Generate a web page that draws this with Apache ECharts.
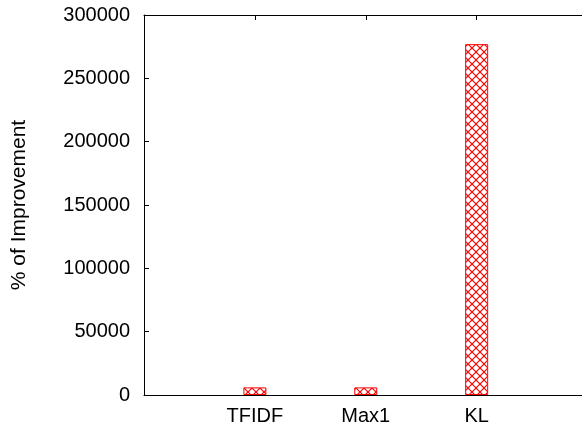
<!DOCTYPE html>
<html><head><meta charset="utf-8">
<script src="https://cdn.jsdelivr.net/npm/echarts@6/dist/echarts.min.js"></script>
<style>html,body{margin:0;padding:0;background:#fff}#c{width:582px;height:429px}</style>
</head><body><div id="c"></div>
<script>
const categories = ['TFIDF', 'Max1', 'KL'];
const improvement = [6000, 6000, 277000];
const yTicks = [0, 50000, 100000, 150000, 200000, 250000, 300000];

function hatch() {
  const s = 8, c = document.createElement('canvas');
  c.width = s; c.height = s;
  const g = c.getContext('2d');
  g.fillStyle = '#fff'; g.fillRect(0, 0, s, s);
  g.strokeStyle = '#ff0000'; g.lineWidth = 1.2;
  g.beginPath();
  g.moveTo(-1, -1); g.lineTo(s + 1, s + 1);
  g.moveTo(s + 1, -1); g.lineTo(-1, s + 1);
  g.stroke();
  return c;
}

const font = "'Liberation Sans', Arial, sans-serif";
const xMax = 3.95;
const chart = echarts.init(document.getElementById('c'), null, {renderer: 'canvas'});
chart.setOption({
  animation: false,
  grid: {left: 144, top: 15, right: 0, bottom: 34, containLabel: false},
  xAxis: [{
    type: 'value', min: 0, max: xMax, interval: 1, position: 'bottom',
    axisLine: {show: true, onZero: false, lineStyle: {color: '#000', width: 1}},
    axisTick: {show: true, inside: true, length: 5, lineStyle: {color: '#000'}},
    splitLine: {show: false},
    axisLabel: {
      color: '#000', fontFamily: font, fontSize: 20, margin: 11, showMaxLabel: false,
      formatter: v => (v >= 1 && v <= categories.length) ? categories[v - 1] : ''
    }
  }, {
    type: 'value', min: 0, max: xMax, interval: 1, position: 'top',
    axisLine: {show: true, onZero: false, lineStyle: {color: '#000', width: 1}},
    axisTick: {show: true, inside: true, length: 5, lineStyle: {color: '#000'}},
    splitLine: {show: false}, axisLabel: {show: false}
  }],
  yAxis: {
    type: 'value', min: yTicks[0], max: yTicks[yTicks.length - 1], interval: 50000,
    name: '% of Improvement', nameLocation: 'middle', nameGap: 114,
    nameTextStyle: {color: '#000', fontFamily: font, fontSize: 21},
    axisLine: {show: true, lineStyle: {color: '#000', width: 1}},
    axisTick: {show: true, inside: true, length: 5, lineStyle: {color: '#000'}},
    splitLine: {show: false},
    axisLabel: {color: '#000', fontFamily: font, fontSize: 20, margin: 14,
      formatter: v => String(v)}
  },
  series: [{
    type: 'bar', xAxisIndex: 0, barWidth: 23,
    data: improvement.map((v, i) => [i + 1, v]),
    itemStyle: {
      color: {image: hatch(), repeat: 'repeat'},
      borderColor: '#ff0000', borderWidth: 1
    }
  }]
});
</script></body></html>
